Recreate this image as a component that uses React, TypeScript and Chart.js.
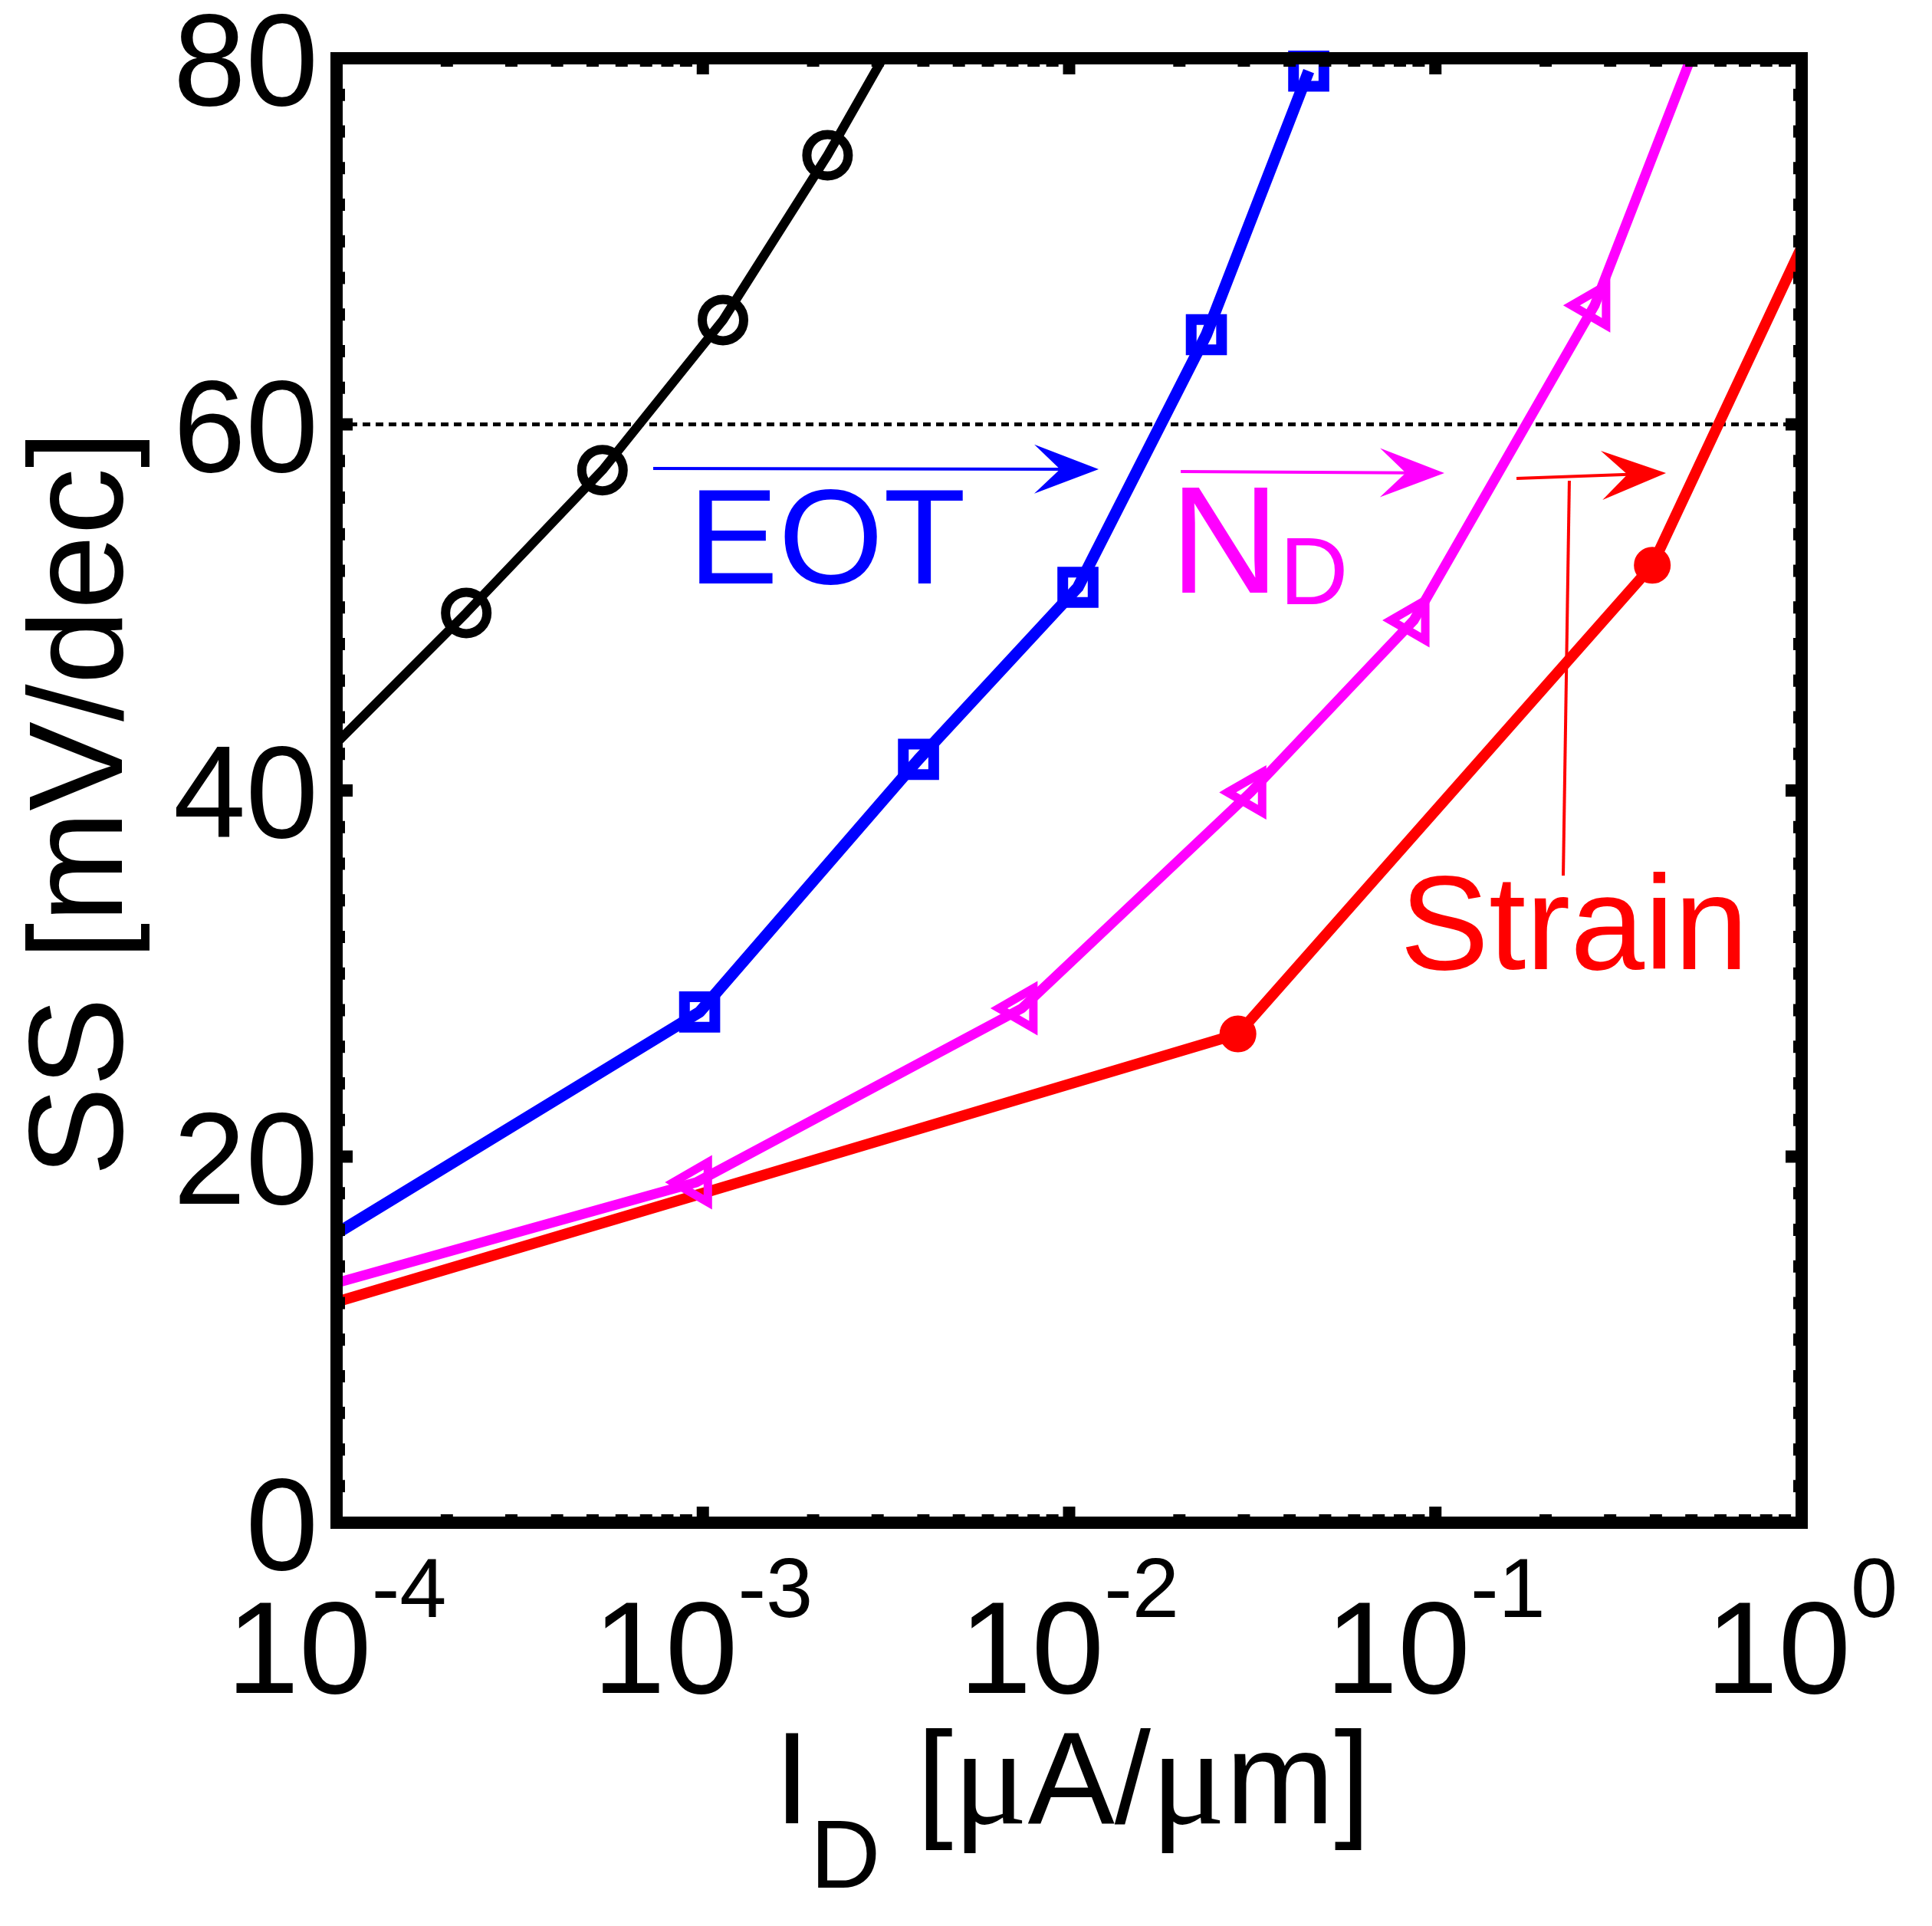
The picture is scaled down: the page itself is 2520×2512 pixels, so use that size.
import { useEffect, useRef } from "react"
import { Chart, registerables } from "chart.js"

Chart.register(...registerables)

// SS vs I_D curves (x in uA/um, y in mV/dec)
const baseX = [1e-4, 2.26e-4, 5.32e-4, 1.135e-3, 2.19e-3, 3.1e-3]
const baseY = [42.6, 49.7, 57.5, 65.7, 74.7, 80]

const eotX = [1e-4, 9.8e-4, 3.88e-3, 1.057e-2, 2.37e-2, 4.51e-2]
const eotY = [15.8, 27.9, 41.7, 51.1, 64.9, 79.3]

const ndX = [1e-4, 9.6e-4, 7.43e-3, 3.13e-2, 8.73e-2, 2.72e-1, 4.98e-1]
const ndY = [13.1, 18.6, 28.1, 39.9, 49.3, 66.5, 80]

const strainX = [1e-4, 1e-3, 2.89e-2, 3.91e-1, 1]
const strainY = [12.06, 18.0, 26.7, 52.3, 69.7]
const strainMarked = [false, false, true, true, false]

const thresholdSS = 60

const yTicks = [0, 20, 40, 60, 80]
const xTickExponents = [-4, -3, -2, -1, 0]

// annotation anchors, in data units
const arrows = [
  { color: "#0000ff", from: [7.32e-4, 57.59], to: [1.204e-2, 57.55] },
  { color: "#ff00ff", from: [2.017e-2, 57.42], to: [0.1058, 57.34] },
  { color: "#ff0000", from: [0.1665, 57.05], to: [0.4262, 57.34] },
]
const strainLeader = { from: [0.2321, 56.92], to: [0.2234, 35.35] }
const eotLabel = { x: 9.13e-4, y: 51.31 }
const ndLabel = { x: 1.884e-2, y: 50.81 }
const strainLabel = { x: 0.08, y: 30.24 }

const SANS = '"Liberation Sans", Arial, Helvetica, sans-serif'
const SERIF = '"Liberation Serif", "Times New Roman", serif'
const font = (size: number, family = SANS) => `${size}px ${family}`

const toPoints = (xs: number[], ys: number[]) => xs.map((x, i) => ({ x, y: ys[i] }))

type Run = { text: string; font: string; dy: number }

function drawRuns(ctx: CanvasRenderingContext2D, runs: Run[], x: number, y: number, align: "left" | "center") {
  let total = 0
  for (const r of runs) {
    ctx.font = r.font
    total += ctx.measureText(r.text).width
  }
  let cx = align === "center" ? x - total / 2 : x
  ctx.textAlign = "left"
  for (const r of runs) {
    ctx.font = r.font
    ctx.fillText(r.text, cx, y + r.dy)
    cx += ctx.measureText(r.text).width
  }
}

const decorPlugin = {
  id: "decor",
  afterDraw(chart: any) {
    const ctx: CanvasRenderingContext2D = chart.ctx
    const { left, right, top, bottom } = chart.chartArea
    const xs = chart.scales.x
    const ys = chart.scales.y
    const px = (v: number) => xs.getPixelForValue(v)
    const py = (v: number) => ys.getPixelForValue(v)

    ctx.save()
    ctx.fillStyle = "#000"
    ctx.strokeStyle = "#000"
    ctx.textBaseline = "alphabetic"

    const seg = (x1: number, y1: number, x2: number, y2: number) => {
      ctx.beginPath()
      ctx.moveTo(x1, y1)
      ctx.lineTo(x2, y2)
      ctx.stroke()
    }

    // ticks, inward on all four sides
    ctx.lineCap = "butt"
    ctx.lineWidth = 16
    for (let v = 0; v <= 80; v += 2) {
      const y = py(v)
      const len = v % 20 === 0 ? 21 : 11
      seg(left, y, left + len, y)
      seg(right, y, right - len, y)
    }
    for (const e of xTickExponents) {
      for (let m = 1; m <= 9; m++) {
        const v = m * Math.pow(10, e)
        if (v > 1.0001) break
        const x = px(v)
        const len = m === 1 ? 21 : 11
        seg(x, bottom, x, bottom - len)
        seg(x, top, x, top + len)
      }
    }

    // frame
    ctx.lineJoin = "miter"
    ctx.lineWidth = 16
    ctx.strokeRect(left, top, right - left, bottom - top)

    // y tick labels
    ctx.font = font(170)
    ctx.textAlign = "right"
    for (const v of yTicks) {
      ctx.fillText(String(v), left - 24, py(v) + 61)
    }

    // x tick labels 10^n
    for (const e of xTickExponents) {
      drawRuns(
        ctx,
        [
          { text: "10", font: font(170), dy: 0 },
          { text: String(e), font: font(110), dy: -99 },
        ],
        px(Math.pow(10, e)),
        bottom + 222,
        "center",
      )
    }

    // axis titles
    ctx.save()
    ctx.translate(left - 280, (top + bottom) / 2 + 17)
    ctx.rotate(-Math.PI / 2)
    ctx.font = font(175)
    ctx.textAlign = "center"
    ctx.fillText("SS [mV/dec]", 0, 0)
    ctx.restore()

    drawRuns(
      ctx,
      [
        { text: "I", font: font(170), dy: 0 },
        { text: "D", font: font(127), dy: 84 },
        { text: " [", font: font(170), dy: 0 },
        { text: "\u03bc", font: font(182, SERIF), dy: 0 },
        { text: "A/", font: font(170), dy: 0 },
        { text: "\u03bc", font: font(182, SERIF), dy: 0 },
        { text: "m]", font: font(170), dy: 0 },
      ],
      (left + right) / 2 + 4,
      bottom + 392,
      "center",
    )

    // arrows
    for (const a of arrows) {
      const x1 = px(a.from[0])
      const y1 = py(a.from[1])
      const x2 = px(a.to[0])
      const y2 = py(a.to[1])
      const ang = Math.atan2(y2 - y1, x2 - x1)
      const hl = 84
      const hw = 32
      const cos = Math.cos(ang)
      const sin = Math.sin(ang)
      ctx.strokeStyle = a.color
      ctx.fillStyle = a.color
      ctx.lineWidth = 4
      seg(x1, y1, x2 - cos * hl * 0.5, y2 - sin * hl * 0.5)
      const bx = x2 - cos * hl
      const by = y2 - sin * hl
      ctx.beginPath()
      ctx.moveTo(x2, y2)
      ctx.lineTo(bx - sin * hw, by + cos * hw)
      ctx.lineTo(x2 - cos * hl * 0.6, y2 - sin * hl * 0.6)
      ctx.lineTo(bx + sin * hw, by - cos * hw)
      ctx.closePath()
      ctx.fill()
    }
    ctx.strokeStyle = "#ff0000"
    ctx.lineWidth = 4
    seg(px(strainLeader.from[0]), py(strainLeader.from[1]), px(strainLeader.to[0]), py(strainLeader.to[1]))

    // labels
    ctx.fillStyle = "#0000ff"
    ctx.textAlign = "left"
    ctx.font = font(176)
    ctx.fillText("EOT", px(eotLabel.x), py(eotLabel.y))

    ctx.fillStyle = "#ff00ff"
    drawRuns(
      ctx,
      [
        { text: "N", font: font(198), dy: 0 },
        { text: "D", font: font(124), dy: 15 },
      ],
      px(ndLabel.x),
      py(ndLabel.y),
      "left",
    )

    ctx.fillStyle = "#ff0000"
    ctx.font = font(174)
    ctx.textAlign = "left"
    ctx.fillText("Strain", px(strainLabel.x), py(strainLabel.y))

    ctx.restore()
  },
}

function SSChart() {
  const chartRef = useRef<HTMLCanvasElement>(null)
  const chartInstance = useRef<Chart | null>(null)

  useEffect(() => {
    if (!chartRef.current) return
    if (chartInstance.current) chartInstance.current.destroy()

    const ends = (n: number, r: number) => Array.from({ length: n }, (_, i) => (i === 0 || i === n - 1 ? 0 : r))

    chartInstance.current = new Chart(chartRef.current, {
      type: "line",
      data: {
        datasets: [
          {
            data: toPoints(baseX, baseY),
            borderColor: "#000000",
            borderWidth: 12,
            pointStyle: "circle",
            pointRadius: ends(baseX.length, 27),
            pointBorderWidth: 12,
            pointBorderColor: "#000000",
            pointBackgroundColor: "rgba(0,0,0,0)",
            clip: false as any,
          },
          {
            data: toPoints(eotX, eotY),
            borderColor: "#0000ff",
            borderWidth: 15,
            pointStyle: "rect",
            pointRadius: eotX.map((_, i) => (i === 0 ? 0 : 28)),
            pointBorderWidth: 14,
            pointBorderColor: "#0000ff",
            pointBackgroundColor: "rgba(0,0,0,0)",
            clip: false as any,
          },
          {
            data: toPoints(ndX, ndY),
            borderColor: "#ff00ff",
            borderWidth: 13,
            pointStyle: "triangle",
            pointRotation: -90,
            pointRadius: ends(ndX.length, 30),
            pointBorderWidth: 11,
            pointBorderColor: "#ff00ff",
            pointBackgroundColor: "rgba(0,0,0,0)",
            clip: false as any,
          },
          {
            data: toPoints(strainX, strainY),
            borderColor: "#ff0000",
            borderWidth: 14,
            pointStyle: "circle",
            pointRadius: strainMarked.map((m) => (m ? 20 : 0)),
            pointBorderWidth: 8,
            pointBorderColor: "#ff0000",
            pointBackgroundColor: "#ff0000",
            clip: false as any,
          },
          {
            data: [
              { x: 1e-4, y: thresholdSS },
              { x: 1, y: thresholdSS },
            ],
            borderColor: "#000000",
            borderWidth: 5,
            borderDash: [10, 7],
            pointRadius: 0,
          },
        ],
      },
      options: {
        animation: false,
        responsive: true,
        maintainAspectRatio: false,
        events: [],
        layout: { padding: { left: 439, right: 170, top: 76, bottom: 526 } },
        elements: { line: { tension: 0, borderCapStyle: "butt", borderJoinStyle: "round" } },
        scales: {
          x: { type: "logarithmic", min: 1e-4, max: 1, display: false },
          y: { type: "linear", min: 0, max: 80, display: false },
        },
        plugins: { legend: { display: false }, tooltip: { enabled: false } },
      },
      plugins: [decorPlugin],
    })

    return () => {
      if (chartInstance.current) {
        chartInstance.current.destroy()
        chartInstance.current = null
      }
    }
  }, [])

  return (
    <div style={{ position: "absolute", left: 0, top: 0, width: 2520, height: 2512, background: "#fff" }}>
      <canvas ref={chartRef} />
    </div>
  )
}

export default function App() {
  return <SSChart />
}
